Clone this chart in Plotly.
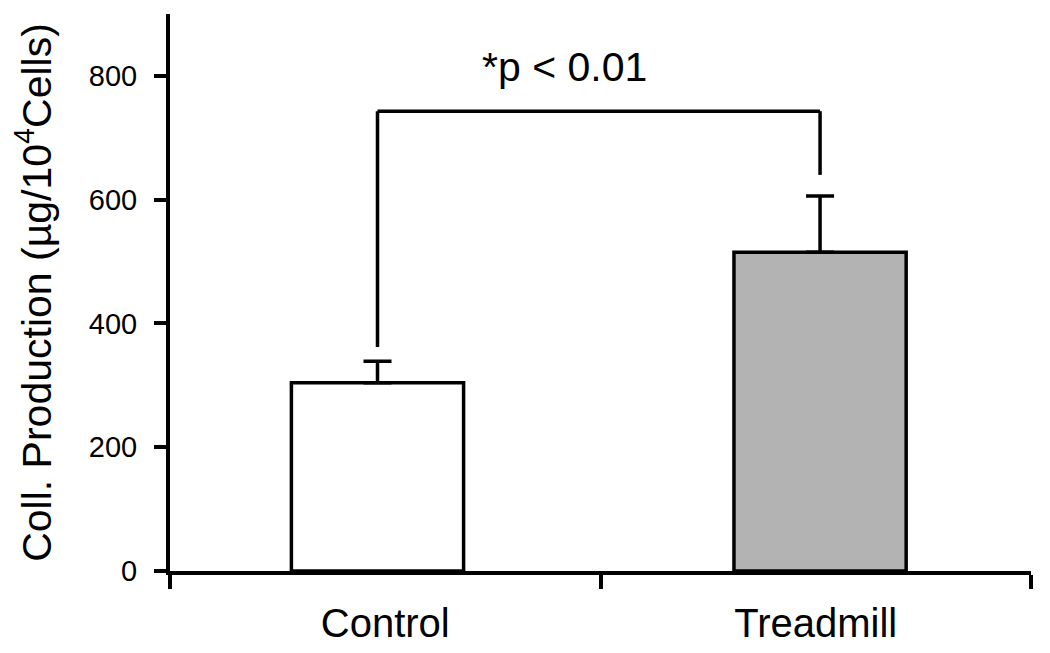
import plotly.graph_objects as go

categories = ["Control", "Treadmill"]
means = [304, 515]
errors_up = [35, 91]
bar_colors = ["#ffffff", "#b3b3b3"]
bar_offsets = [-0.218, -0.19]
bar_width = 0.4
y_ticks = [0, 200, 400, 600, 800]
bracket_level = 743
bracket_ends = [362, 640]
sig_text = "*p < 0.01"

FONT = "Arial, Liberation Sans, sans-serif"
LW = 3.5
AXW = 4

fig = go.Figure()
fig.add_trace(go.Bar(
    x=categories, y=means, width=bar_width, offset=bar_offsets,
    marker=dict(color=bar_colors, line=dict(color="black", width=LW)),
    error_y=dict(type="data", symmetric=False, array=errors_up,
                 arrayminus=[0] * len(means), color="black", thickness=LW, width=14),
    showlegend=False,
))

# significance bracket, anchored on bar centres
bar_centres = [i + o + bar_width / 2 for i, o in enumerate(bar_offsets)]
for xc, yb in zip(bar_centres, bracket_ends):
    fig.add_shape(type="line", xref="x", yref="y", x0=xc, x1=xc, y0=yb, y1=bracket_level,
                  line=dict(color="black", width=LW))
fig.add_shape(type="line", xref="x", yref="y", x0=bar_centres[0], x1=bar_centres[1],
              y0=bracket_level, y1=bracket_level, line=dict(color="black", width=LW))
fig.add_annotation(x=0.417, y=815, xref="x", yref="y", text=sig_text, showarrow=False,
                   font=dict(family=FONT, size=41, color="black"), xanchor="center", yanchor="middle")

# small extension of the x axis line to the left of the y axis
fig.add_shape(type="line", xref="paper", yref="y", x0=-0.015, x1=0, y0=0, y1=0,
              line=dict(color="black", width=AXW))

fig.update_layout(
    width=1042, height=645,
    margin=dict(l=162, r=19, t=6, b=82),
    plot_bgcolor="white", paper_bgcolor="white",
    font=dict(family=FONT, color="black"),
)
fig.update_xaxes(
    range=[-0.5, 1.5], showline=True, linecolor="black", linewidth=AXW,
    ticks="outside", ticklen=14, tickwidth=AXW, tickcolor="black", tickson="boundaries",
    tickfont=dict(size=40, family=FONT, color="black"), showgrid=False, zeroline=False,
    ticklabelstandoff=14, automargin=False,
)
fig.update_yaxes(
    range=[0, 900], tickvals=y_ticks, showline=True, linecolor="black", linewidth=AXW,
    ticks="outside", ticklen=12, tickwidth=AXW, tickcolor="black",
    tickfont=dict(size=29, family=FONT, color="black"), showgrid=False, zeroline=False,
    ticklabelstandoff=11, automargin=False,
    title=dict(text="Coll. Production (µg/10<sup>4</sup>Cells)", font=dict(size=41, family=FONT, color="black"),
               standoff=50),
)

fig.write_html("out.html")
